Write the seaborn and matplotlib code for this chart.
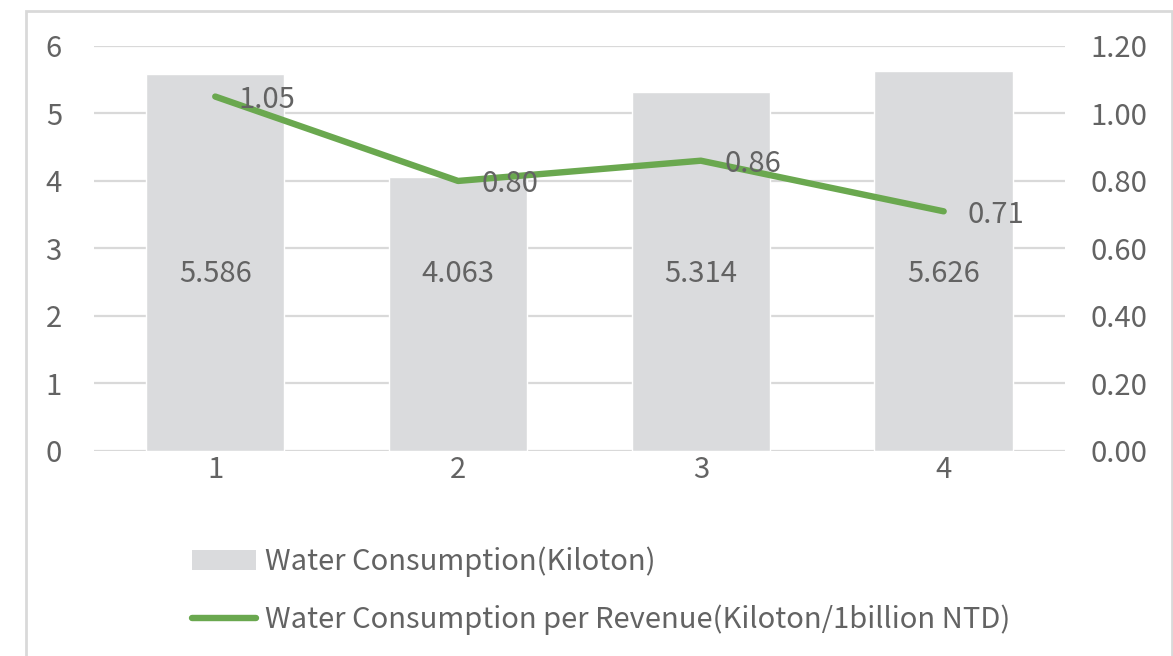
import numpy as np
import pandas as pd
import matplotlib
matplotlib.use('Agg')
import matplotlib.pyplot as plt
import seaborn as sns
from matplotlib.patches import Rectangle
from matplotlib.lines import Line2D
from matplotlib.patches import Patch

# values
quarters = ['1', '2', '3', '4']
water_kiloton = [5.586, 4.063, 5.314, 5.626]
water_per_revenue = [1.05, 0.80, 0.86, 0.71]
bar_label = 'Water Consumption(Kiloton)'
line_label = 'Water Consumption per Revenue(Kiloton/1billion NTD)'

bar_color = '#DADBDD'
line_color = '#6AA84F'
text_color = '#636363'
grid_color = '#D9D9D9'
fs = 21

sns.set_theme(style='white')
plt.rcParams['font.family'] = ['Noto Sans CJK TC', 'DejaVu Sans']

df = pd.DataFrame({'quarter': quarters, 'water': water_kiloton, 'ratio': water_per_revenue})
df['pos'] = np.arange(len(df))

fig = plt.figure(figsize=(11.73, 6.56), dpi=100)
ax = fig.add_axes([0.080, 0.3125, 0.828, 0.6175])

sns.barplot(data=df, x='quarter', y='water', color=bar_color, width=0.57,
            saturation=1, ax=ax, zorder=2)
ax.set_ylim(0, 6)
ax.set_xlim(-0.5, 3.5)
ax.set_yticks(range(0, 7))
ax.yaxis.grid(True, color=grid_color, linewidth=1.6, zorder=0)
ax.set_axisbelow(True)
ax.set_xlabel('')
ax.set_ylabel('')
ax.tick_params(axis='both', length=0, labelsize=fs, labelcolor=text_color)
ax.tick_params(axis='y', pad=23)
ax.tick_params(axis='x', pad=3)
for s in ax.spines.values():
    s.set_visible(False)

# bar value labels sit around the middle of the plot height
for i, v in enumerate(df['water']):
    ax.text(i, 2.62, f'{v:.3f}', ha='center', va='center', fontsize=fs, color=text_color, zorder=3)

ax2 = ax.twinx()
sns.lineplot(data=df, x='pos', y='ratio', color=line_color, linewidth=4.6, ax=ax2,
             solid_capstyle='round', zorder=4)
ax2.set_ylim(0, 1.2)
ax2.set_yticks(np.arange(0, 1.21, 0.2))
ax2.set_yticklabels([f'{t:.2f}' for t in np.arange(0, 1.21, 0.2)])
ax2.set_xlim(-0.5, 3.5)
ax2.set_xlabel('')
ax2.set_ylabel('')
ax2.tick_params(axis='y', length=0, labelsize=fs, labelcolor=text_color, pad=18)
for s in ax2.spines.values():
    s.set_visible(False)

for i, v in enumerate(df['ratio']):
    ax2.annotate(f'{v:.2f}', (i, v), xytext=(17, -2.5), textcoords='offset points',
                 ha='left', va='center', fontsize=fs, color=text_color, zorder=5)

handles = [Patch(facecolor=bar_color, edgecolor='none'),
           Line2D([0], [0], color=line_color, linewidth=4.6, solid_capstyle='round')]
fig.legend(handles, [bar_label, line_label], loc='upper left', bbox_to_anchor=(0.154, 0.184),
           frameon=False, fontsize=fs, labelcolor=text_color, handlelength=2.2,
           handletextpad=0.3, labelspacing=0.94, borderaxespad=0)

# light border around the chart area
fig.patches.append(Rectangle((26 / 1173, -0.01), (1172 - 26) / 1173, 1 - 11 / 656 + 0.01,
                             transform=fig.transFigure, fill=False, edgecolor=grid_color, linewidth=2))

fig.savefig('out.png', dpi=100)
